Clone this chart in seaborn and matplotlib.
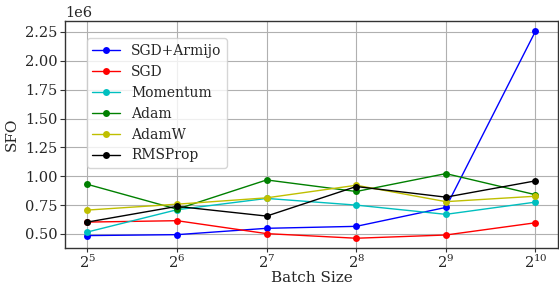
import matplotlib
matplotlib.use('Agg')
import matplotlib.pyplot as plt
import pandas as pd
import seaborn as sns

# Batch sizes and SFO values per optimizer
BATCH_SIZES = [32, 64, 128, 256, 512, 1024]
SGD_ARMIJO = [0.486e6, 0.494e6, 0.549e6, 0.566e6, 0.730e6, 2.257e6]
SGD = [0.603e6, 0.615e6, 0.503e6, 0.463e6, 0.491e6, 0.597e6]
MOMENTUM = [0.517e6, 0.710e6, 0.808e6, 0.750e6, 0.670e6, 0.776e6]
ADAM = [0.930e6, 0.715e6, 0.968e6, 0.868e6, 1.023e6, 0.840e6]
ADAMW = [0.707e6, 0.758e6, 0.813e6, 0.922e6, 0.780e6, 0.827e6]
RMSPROP = [0.603e6, 0.739e6, 0.655e6, 0.911e6, 0.819e6, 0.960e6]

OPTIMIZERS = ['SGD+Armijo', 'SGD', 'Momentum', 'Adam', 'AdamW', 'RMSProp']
COLORS = ['b', 'r', 'c', 'g', 'y', 'k']
Y_TICKS = [0.5e6, 0.75e6, 1.0e6, 1.25e6, 1.5e6, 1.75e6, 2.0e6, 2.25e6]

series = [SGD_ARMIJO, SGD, MOMENTUM, ADAM, ADAMW, RMSPROP]
df = pd.DataFrame({
    'Batch Size': BATCH_SIZES * len(OPTIMIZERS),
    'SFO': [v for s in series for v in s],
    'Optimizer': [name for name in OPTIMIZERS for _ in BATCH_SIZES],
})

sns.set_style('whitegrid', {
    'axes.edgecolor': '#333333',
    'grid.color': '#b0b0b0',
    'xtick.bottom': True,
    'ytick.left': True,
})
plt.rcParams['font.family'] = ['DejaVu Serif']
plt.rcParams['mathtext.fontset'] = 'dejavuserif'
plt.rcParams['font.size'] = 10.5

fig, ax = plt.subplots(figsize=(5.59, 2.84), dpi=100)
sns.lineplot(data=df, x='Batch Size', y='SFO', hue='Optimizer',
             palette=dict(zip(OPTIMIZERS, COLORS)), marker='o',
             markersize=5, markeredgewidth=0, linewidth=1, ax=ax)

ax.set_xscale('log', base=2)
ax.set_xticks(BATCH_SIZES)
ax.xaxis.set_minor_locator(matplotlib.ticker.NullLocator())
ax.set_yticks(Y_TICKS)
ax.set_ylim(0.379e6, 2.345e6)
ax.set_xlabel('Batch Size', fontsize=11, labelpad=0)
ax.set_ylabel('SFO', fontsize=11, labelpad=4)
ax.tick_params(labelsize=10.5, width=0.8, color='#333333')
ax.tick_params(axis='x', length=3, pad=1)
ax.tick_params(axis='y', length=3.5, pad=2)
for sp in ax.spines.values():
    sp.set_linewidth(1.0)

leg = ax.legend(loc='upper left', bbox_to_anchor=(0.03, 0.955), fontsize=10,
                frameon=True, labelspacing=0.5)
leg.get_frame().set_edgecolor('#cccccc')

plt.subplots_adjust(left=0.1163, right=0.998, top=0.926, bottom=0.127)
plt.savefig('out.png', dpi=100)
plt.close()
